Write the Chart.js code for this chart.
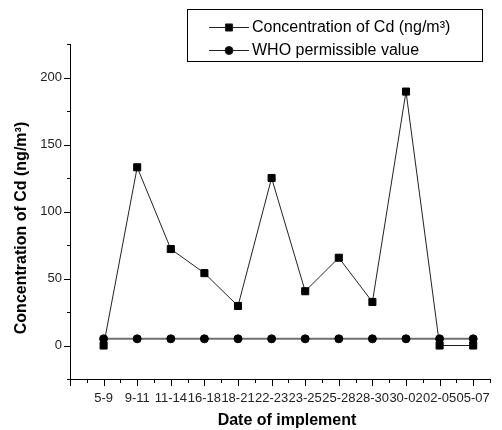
<!DOCTYPE html>
<html>
<head>
<meta charset="utf-8">
<script src="https://cdn.jsdelivr.net/npm/chart.js@4"></script>
<style>
  html, body { margin: 0; padding: 0; background: #fff; }
  canvas { display: block; }
</style>
</head>
<body>
<canvas id="cdChart" width="502" height="430"></canvas>
<script>
const dates = ["5-9", "9-11", "11-14", "16-18", "18-21", "22-23", "23-25", "25-28", "28-30", "30-02", "02-05", "05-07"];
const cdValues = [0, 133, 72, 54, 29.5, 125, 40.5, 65.5, 32.5, 189.5, 0, 0];
const whoValues = [5, 5, 5, 5, 5, 5, 5, 5, 5, 5, 5, 5];
const yLabels = [0, 50, 100, 150, 200];

const fontFamily = 'Arial, "Liberation Sans", sans-serif';

// ticks (major + minor), boxed legend and axis titles
const axisDecor = {
    id: 'axisDecor',
    afterDraw(chart) {
        const ctx = chart.ctx;
        const xs = chart.scales.x, ys = chart.scales.y;
        ctx.save();
        ctx.strokeStyle = '#000';
        ctx.lineWidth = 1;
        ctx.beginPath();
        xs.ticks.forEach(t => {
            const px = Math.round(xs.getPixelForValue(t.value)) + 0.5;
            const len = Number.isInteger(t.value) ? 7 : 4;
            ctx.moveTo(px, xs.top);
            ctx.lineTo(px, xs.top + len);
        });
        ys.ticks.forEach(t => {
            const py = Math.round(ys.getPixelForValue(t.value)) + 0.5;
            const len = t.value % 50 === 0 ? 6 : 3;
            ctx.moveTo(ys.right, py);
            ctx.lineTo(ys.right - len, py);
        });
        ctx.stroke();

        // legend
        ctx.strokeRect(187.5, 9.5, 295, 52);
        ctx.font = '16px ' + fontFamily;
        ctx.fillStyle = '#000';
        ctx.textBaseline = 'middle';
        chart.data.datasets.forEach((ds, i) => {
            const y = 27 + i * 22.5;
            ctx.strokeStyle = '#222';
            ctx.beginPath();
            ctx.moveTo(209, Math.round(y) + 0.5);
            ctx.lineTo(249, Math.round(y) + 0.5);
            ctx.stroke();
            Chart.helpers.drawPoint(ctx, {
                pointStyle: ds.pointStyle,
                radius: ds.pointRadius,
                borderWidth: 1
            }, 229, Math.round(y) + 0.5);
            ctx.fillStyle = '#000';
            ctx.fillText(ds.label, 252, y + 1);
        });

        // axis titles
        ctx.font = 'bold 16px ' + fontFamily;
        ctx.textAlign = 'center';
        ctx.fillText('Date of implement', 287, 421);
        ctx.translate(22, 228);
        ctx.rotate(-Math.PI / 2);
        ctx.fillText('Concentration of Cd (ng/m³)', 0, 0);
        ctx.restore();
    }
};

const ctx = document.getElementById('cdChart').getContext('2d');
ctx.fillStyle = '#000';
ctx.strokeStyle = '#000';

new Chart(ctx, {
    type: 'line',
    data: {
        datasets: [{
            label: 'Concentration of Cd (ng/m³)',
            data: dates.map((d, i) => ({ x: i, y: cdValues[i] })),
            borderColor: '#222',
            borderWidth: 1,
            backgroundColor: '#000',
            pointStyle: 'rect',
            pointRadius: 5,
            pointBorderColor: '#000',
            pointBorderWidth: 1,
            order: 1
        }, {
            label: 'WHO permissible value',
            data: dates.map((d, i) => ({ x: i, y: whoValues[i] })),
            borderColor: '#707070',
            borderWidth: 2,
            backgroundColor: '#000',
            pointStyle: 'circle',
            pointRadius: 4,
            pointBorderColor: '#000',
            pointBorderWidth: 1,
            order: 0
        }]
    },
    options: {
        responsive: false,
        animation: false,
        events: [],
        layout: { padding: { top: 44, right: 12, bottom: 0, left: 0 } },
        plugins: {
            legend: { display: false },
            tooltip: { enabled: false }
        },
        scales: {
            x: {
                type: 'linear',
                min: -1,
                max: 11.5,
                afterFit: s => { s.height = 51; },
                grid: { display: false, drawTicks: false },
                border: { display: true, color: '#000', width: 1 },
                ticks: {
                    stepSize: 0.5,
                    autoSkip: false,
                    maxRotation: 0,
                    minRotation: 0,
                    padding: 12,
                    color: '#222',
                    font: { family: fontFamily, size: 13 },
                    callback: v => (Number.isInteger(v) && v >= 0 && v < dates.length) ? dates[v] : ''
                }
            },
            y: {
                min: -25,
                max: 225,
                afterFit: s => { s.width = 70; },
                grid: { display: false, drawTicks: false },
                border: { display: true, color: '#000', width: 1 },
                ticks: {
                    stepSize: 25,
                    padding: 8,
                    color: '#222',
                    font: { family: fontFamily, size: 13 },
                    callback: v => yLabels.includes(v) ? v : ''
                }
            }
        }
    },
    plugins: [axisDecor]
});
</script>
</body>
</html>
